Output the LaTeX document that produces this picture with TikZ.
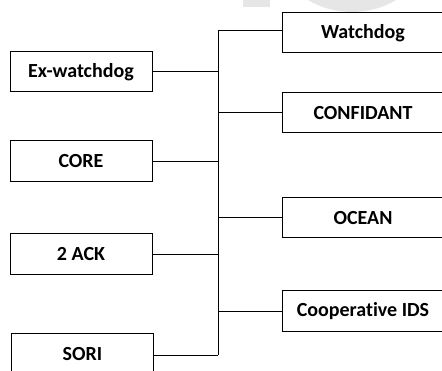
\documentclass[tikz,border=0pt]{standalone}
\usepackage{fontspec}
\setmainfont[Ligatures={NoCommon}]{Carlito}
\definecolor{wm}{HTML}{E6E6E6}
\begin{document}
\begin{tikzpicture}[x=1pt,y=-1pt,
  box/.style={draw=black,line width=1pt,fill=white,minimum height=40pt,inner sep=0pt,font=\fontsize{20}{24}\selectfont\bfseries},
  lbox/.style={box,minimum width=142pt},
  rbox/.style={box,minimum width=162pt},
  wire/.style={line width=1pt}]
\useasboundingbox (0,0) rectangle (442,371);
\begin{scope}
\clip (0,0) rectangle (442,371);
\fill[wm] (243,-2) rectangle (270,7);
\fill[wm] (352,-75) circle[radius=87pt];
\node[lbox] (ex) at (81,72) {Ex-watchdog};
\node[lbox,minimum height=41pt] (core) at (81,161.5) {CORE};
\node[lbox,minimum height=41pt] (ack) at (81,254.5) {2 ACK};
\node[lbox] (sori) at (82.5,354) {SORI};
\node[rbox] (wd) at (363,33) {Watchdog};
\node[rbox] (conf) at (363,113) {CONFIDANT};
\node[rbox] (ocean) at (363,218) {OCEAN};
\node[rbox,minimum height=41pt] (coop) at (363,311.5) {Cooperative IDS};
\coordinate (top) at (218,31);
\coordinate (bot) at (218,355.5);
\draw[wire] (top) -- (bot);
\draw[wire] (top) -- (top -| wd.west);
\draw[wire] (ex.east) -- (ex.east -| top);
\draw[wire] (conf.west) -- (conf.west -| top);
\draw[wire] (core.east) -- (core.east -| top);
\draw[wire] (ocean.west) -- (ocean.west -| top);
\draw[wire] (ack.east) -- (ack.east -| top);
\draw[wire] (coop.west) -- (coop.west -| top);
\draw[wire] (bot) -- (bot -| sori.east);
\end{scope}
\end{tikzpicture}
\end{document}
